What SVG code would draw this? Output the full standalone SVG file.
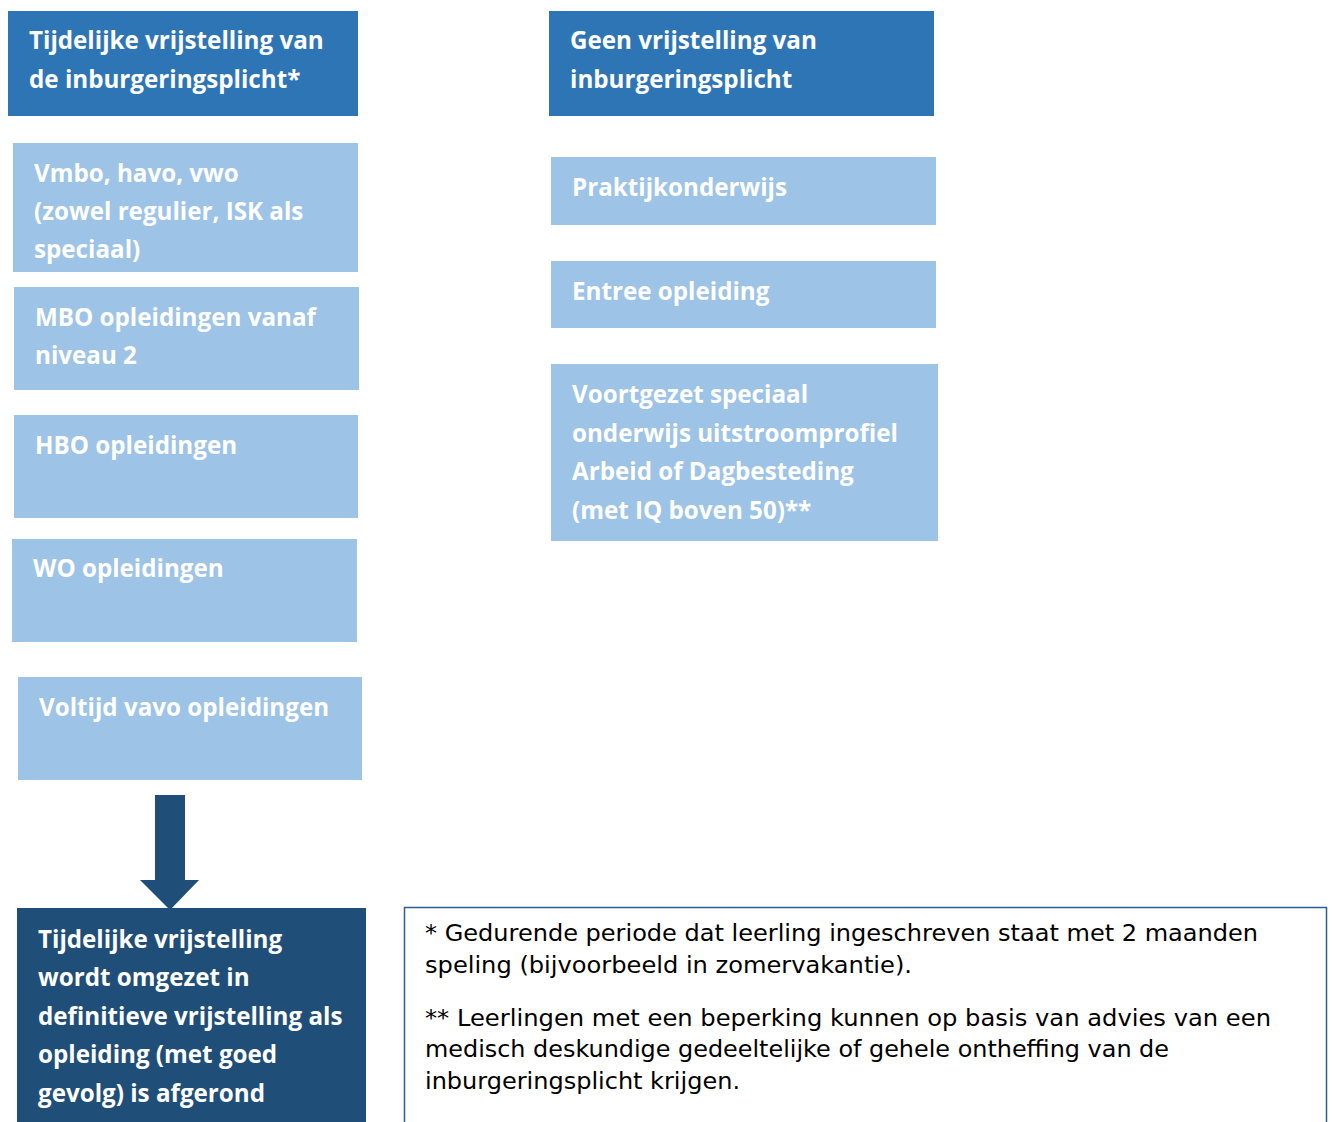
<svg xmlns="http://www.w3.org/2000/svg" width="1332" height="1122" viewBox="0 0 1332 1122">
<style>
.hdr{fill:#2E75B6}
.lt{fill:#9DC3E6}
.dk{fill:#1F4E79}
.bt{font-family:"Open Sans","DejaVu Sans",sans-serif;font-weight:bold;font-size:24.2px;fill:#FFFFFF}
.nt{font-family:"DejaVu Sans",Verdana,sans-serif;font-size:23px;fill:#000000}
</style>
<rect width="1332" height="1122" fill="#FFFFFF"/>
<g id="hdr-left"><rect class="hdr" x="8" y="11" width="350" height="105"/>
<text class="bt" x="29" y="49">Tijdelijke vrijstelling van</text>
<text class="bt" x="29" y="88">de inburgeringsplicht*</text></g>
<g id="hdr-right"><rect class="hdr" x="549" y="11" width="385" height="105"/>
<text class="bt" x="570" y="49">Geen vrijstelling van</text>
<text class="bt" x="570" y="88">inburgeringsplicht</text></g>
<g id="vmbo"><rect class="lt" x="13" y="143" width="345" height="129"/>
<text class="bt" x="34" y="182">Vmbo, havo, vwo</text>
<text class="bt" x="34" y="220">(zowel regulier, ISK als</text>
<text class="bt" x="34" y="258">speciaal)</text></g>
<g id="mbo"><rect class="lt" x="14" y="287" width="345" height="103"/>
<text class="bt" x="35" y="326">MBO opleidingen vanaf</text>
<text class="bt" x="35" y="364">niveau 2</text></g>
<g id="hbo"><rect class="lt" x="14" y="415" width="344" height="103"/>
<text class="bt" x="35" y="454">HBO opleidingen</text></g>
<g id="wo"><rect class="lt" x="12" y="539" width="345" height="103"/>
<text class="bt" x="33" y="577">WO opleidingen</text></g>
<g id="vavo"><rect class="lt" x="18" y="677" width="344" height="103"/>
<text class="bt" x="39" y="716">Voltijd vavo opleidingen</text></g>
<g id="connectors"><path class="dk" d="M155 795H185V880H199L170 910L140 880H155Z"/></g>
<g id="result"><rect class="dk" x="17" y="908" width="349" height="214"/>
<text class="bt" x="38" y="948">Tijdelijke vrijstelling</text>
<text class="bt" x="38" y="986">wordt omgezet in</text>
<text class="bt" x="38" y="1025">definitieve vrijstelling als</text>
<text class="bt" x="38" y="1063">opleiding (met goed</text>
<text class="bt" x="38" y="1102">gevolg) is afgerond</text></g>
<g id="praktijk"><rect class="lt" x="551" y="157" width="385" height="68"/>
<text class="bt" x="572" y="196">Praktijkonderwijs</text></g>
<g id="entree"><rect class="lt" x="551" y="261" width="385" height="67"/>
<text class="bt" x="572" y="300">Entree opleiding</text></g>
<g id="vso"><rect class="lt" x="551" y="364" width="387" height="177"/>
<text class="bt" x="572" y="403">Voortgezet speciaal</text>
<text class="bt" x="572" y="442">onderwijs uitstroomprofiel</text>
<text class="bt" x="572" y="480">Arbeid of Dagbesteding</text>
<text class="bt" x="572" y="519">(met IQ boven 50)**</text></g>
<g id="notes"><rect x="404.5" y="907.5" width="922" height="220" fill="#FFFFFF" stroke="#2F5F8F" stroke-width="1.5"/>
<text class="nt" x="425" y="941" textLength="833" lengthAdjust="spacingAndGlyphs">* Gedurende periode dat leerling ingeschreven staat met 2 maanden</text>
<text class="nt" x="425" y="973" textLength="487" lengthAdjust="spacingAndGlyphs">speling (bijvoorbeeld in zomervakantie).</text>
<text class="nt" x="425" y="1026" textLength="846" lengthAdjust="spacingAndGlyphs">** Leerlingen met een beperking kunnen op basis van advies van een</text>
<text class="nt" x="425" y="1057" textLength="744" lengthAdjust="spacingAndGlyphs">medisch deskundige gedeeltelijke of gehele ontheffing van de</text>
<text class="nt" x="425" y="1089" textLength="315" lengthAdjust="spacingAndGlyphs">inburgeringsplicht krijgen.</text></g>
</svg>
